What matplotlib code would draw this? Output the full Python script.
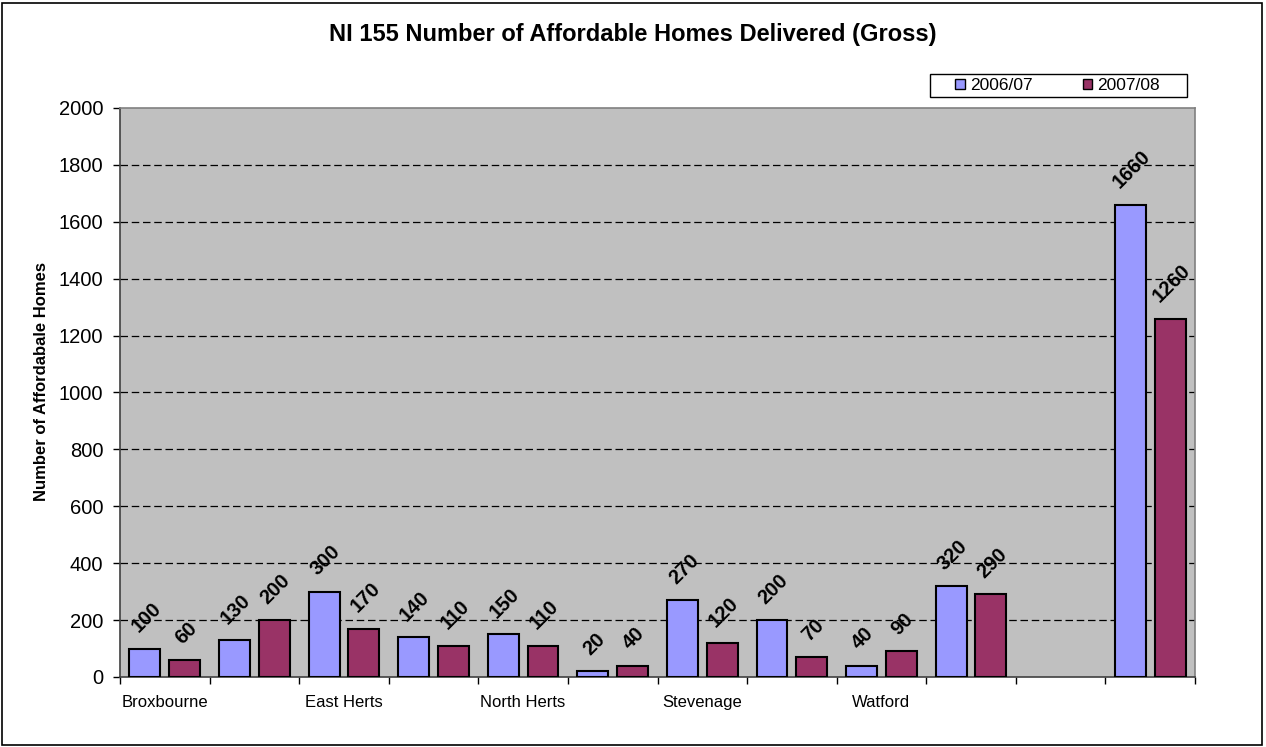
import matplotlib
matplotlib.use("Agg")
import matplotlib.pyplot as plt
import numpy as np
from matplotlib.patches import Rectangle

plt.rcParams['font.family'] = ['Liberation Sans', 'DejaVu Sans']

categories = ["Broxbourne", "Dacorum", "East Herts", "Hertsmere", "North Herts",
              "St Albans", "Stevenage", "Three Rivers", "Watford", "Welwyn Hatfield",
              "", "Hertfordshire"]
shown_labels = ["Broxbourne", "", "East Herts", "", "North Herts", "", "Stevenage",
                "", "Watford", "", "", ""]
series_names = ["2006/07", "2007/08"]
values_0607 = [100, 130, 300, 140, 150, 20, 270, 200, 40, 320, np.nan, 1660]
values_0708 = [60, 200, 170, 110, 110, 40, 120, 70, 90, 290, np.nan, 1260]
y_ticks = list(range(0, 2001, 200))

colors = ["#9999FF", "#993366"]

fig = plt.figure(figsize=(12.66, 7.47), dpi=100)
ax = fig.add_axes([120/1266, 70/747, 1075/1266, 569/747])
ax.set_facecolor("#C0C0C0")

x = np.arange(len(categories)) + 0.5
w = 0.345
offs = [-0.222, 0.222]
handles = []
for vals, off, col, name in zip([values_0607, values_0708], offs, colors, series_names):
    b = ax.bar(x + off, vals, width=w, color=col, edgecolor="black", linewidth=1.5,
               label=name, zorder=3)
    handles.append(b)
    for xi, v in zip(x + off, vals):
        if np.isnan(v):
            continue
        ax.annotate(f"{int(v)}", (xi, v), xytext=(1, 9), textcoords="offset points",
                    rotation=45, ha="center", va="bottom", fontsize=14.5,
                    fontweight="bold", zorder=4)

ax.set_xlim(0, len(categories))
ax.set_ylim(0, 2000)
ax.set_yticks(y_ticks)
ax.set_yticklabels([str(t) for t in y_ticks], fontsize=14.5)
ax.tick_params(axis="y", direction="out", length=5, width=1, pad=7)

ax.set_xticks(x)
ax.set_xticklabels(shown_labels, fontsize=12)
ax.set_xticks(np.arange(len(categories) + 1), minor=True)
ax.tick_params(axis="x", which="major", length=0, pad=13)
ax.tick_params(axis="x", which="minor", direction="out", length=5, width=1)

for t in y_ticks[1:-1]:
    ax.axhline(t, color="black", linestyle=(0, (6, 3)), linewidth=0.9, zorder=1)

ax.spines["left"].set_color("#404040")
ax.spines["bottom"].set_color("#404040")
ax.spines["top"].set_color("#808080")
ax.spines["right"].set_color("#808080")
for s in ax.spines.values():
    s.set_linewidth(1.2)

ax.set_ylabel("Number of Affordabale Homes", fontsize=12, fontweight="bold")
ax.yaxis.set_label_coords(-0.066, 0.52)

fig.text(0.5, 1 - 35/747, "NI 155 Number of Affordable Homes Delivered (Gross)",
         ha="center", va="center", fontsize=17, fontweight="bold")

# legend box as in the reference (wide frame)
fig.patches.append(Rectangle((930/1266, 1 - 97/747), 257/1266, 23/747,
                             transform=fig.transFigure, facecolor="white",
                             edgecolor="black", linewidth=1, zorder=1))
leg = fig.legend(handles, series_names, loc="center left",
                 bbox_to_anchor=(955/1266, 1 - 85.5/747),
                 bbox_transform=fig.transFigure, ncol=2, frameon=False,
                 fontsize=12.5, handlelength=0.55, handleheight=0.55, handletextpad=0.3,
                 columnspacing=2.9, borderpad=0.0, borderaxespad=0)
leg.set_zorder(10)
for h in leg.legend_handles:
    h.set_linewidth(1)

fig.patches.append(Rectangle((2/1266, 2/747), 1260/1266, 742/747, transform=fig.transFigure,
                             fill=False, edgecolor="black", linewidth=1.2))

fig.savefig("out.png", dpi=100)
